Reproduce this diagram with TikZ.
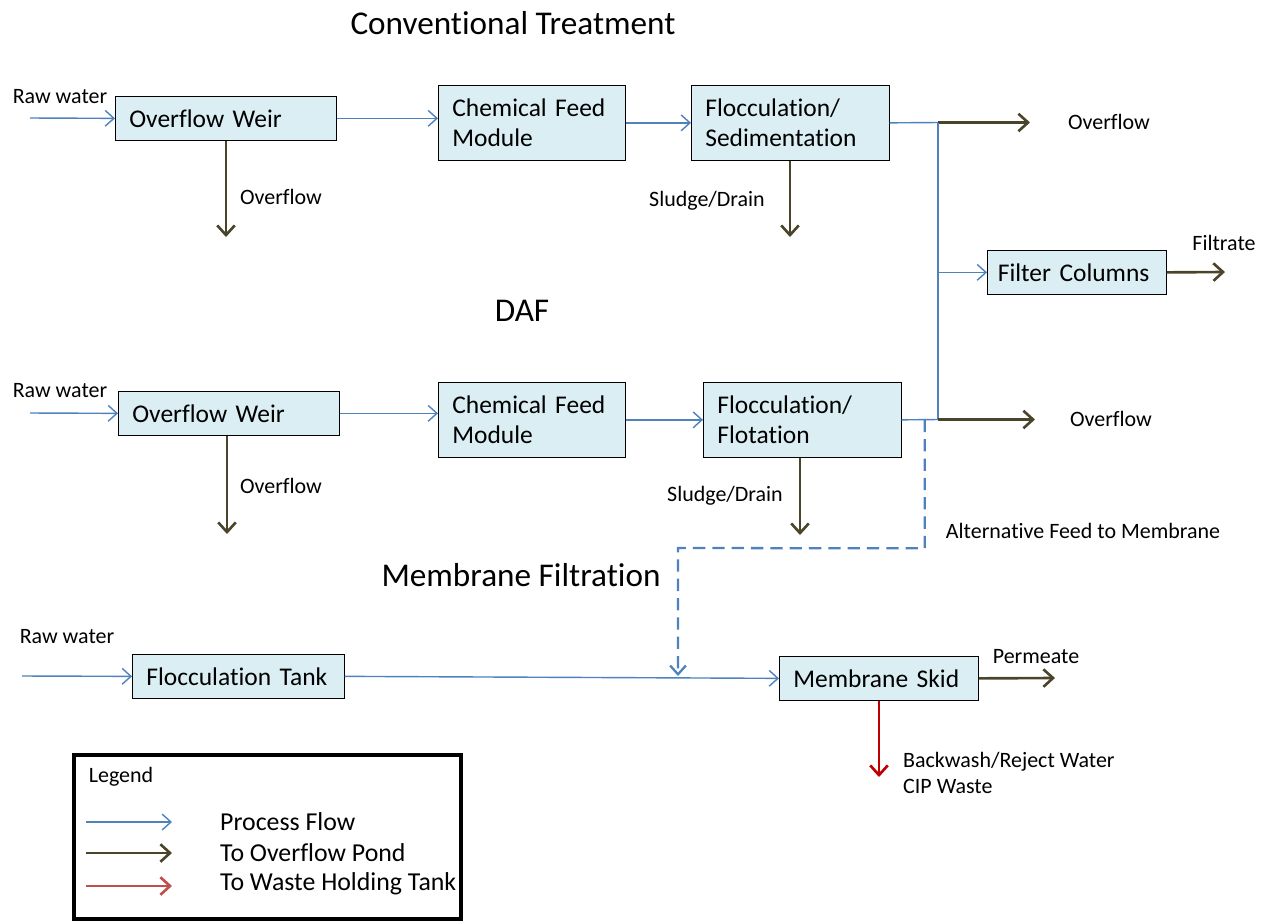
\documentclass[tikz,border=0pt]{standalone}
\usepackage{fontspec}
\setmainfont{Carlito}[Ligatures=NoCommon]
\usetikzlibrary{arrows.meta,calc}
\definecolor{flowblue}{HTML}{4F81BD}
\definecolor{pond}{HTML}{4A452A}
\definecolor{wastered}{HTML}{C00000}
\definecolor{wastelt}{HTML}{C0504D}
\definecolor{boxfill}{HTML}{DAEEF3}

\begin{document}
\begin{tikzpicture}[x=0.02cm,y=-0.02cm,
    unit/.style={draw,fill=boxfill,anchor=north west,align=left,inner xsep=0.28cm,
      text width=#1,minimum height=0.88cm,font=\fontsize{14.5}{17.5}\selectfont},
    lbl/.style={font=\fontsize{12.5}{14.8}\selectfont},
    ttl/.style={font=\fontsize{18.9}{22}\selectfont},
    key/.style={font=\fontsize{14.7}{17}\selectfont,anchor=west},
    pipe/.style={flowblue,line width=0.8pt},
    flow/.style={pipe,-{Straight Barb[length=5pt,width=9pt]}},
    over/.style={pond,line width=1.5pt,-{Straight Barb[length=5.5pt,width=10pt]}},
    reject/.style={wastered,line width=1.5pt,-{Straight Barb[length=5.5pt,width=10pt]}}]
  \useasboundingbox (0,0) rectangle (1272,921);

  % conventional treatment
  \node[ttl] (ttlconv) at (513,23) {Conventional Treatment};
  \node[unit=3.86cm] (ow1) at (115,96) {Overflow Weir};
  \node[unit=3.18cm,minimum height=1.5cm] (cf1) at (438,85) {Chemical Feed\\Module};
  \node[unit=3.40cm,minimum height=1.5cm] (fs1) at (691,85) {Flocculation/\\Sedimentation};
  \node[unit=3.16cm,inner xsep=0.21cm] (fc) at (987,250) {Filter Columns};
  \coordinate (raw1) at (30,118);
  \node[lbl] (lraw1) at (60,97) {Raw water};
  \coordinate (ovd1) at (226,237);
  \node[lbl] (lovd1) at (281,197) {Overflow};
  \coordinate (sl1) at (790,237);
  \node[lbl] (lsl1) at (707,201) {Sludge/Drain};
  \coordinate (j1) at (938,122.5);
  \coordinate (ov1) at (1030,122.5);
  \node[lbl] (lov1) at (1109,122) {Overflow};
  \coordinate (filt) at (1225,272);
  \node[lbl] (lfilt) at (1224,243) {Filtrate};

  \draw[flow] (raw1) -- (ow1.west);
  \draw[flow] (ow1.east) -- (ow1.east -| cf1.west);
  \draw[flow] (cf1.east) -- (fs1.west);
  \draw[over] (ow1.south -| ovd1) -- (ovd1);
  \draw[over] (fs1.south -| sl1) -- (sl1);
  \draw[pipe] (fs1.east) -- (j1);
  \draw[over] (j1) -- (ov1);
  \draw[flow] (j1 |- fc.west) -- (fc.west);
  \draw[over] (fc.east) -- (filt);

  % DAF
  \node[ttl] (ttldaf) at (522,311) {DAF};
  \node[unit=3.86cm] (ow2) at (118,391) {Overflow Weir};
  \node[unit=3.18cm,minimum height=1.5cm] (cf2) at (438,382) {Chemical Feed\\Module};
  \node[unit=3.40cm,minimum height=1.5cm] (ff2) at (703,382) {Flocculation/\\Flotation};
  \coordinate (raw2) at (30,413);
  \node[lbl] (lraw2) at (60,391) {Raw water};
  \coordinate (ovd2) at (227,534);
  \node[lbl] (lovd2) at (281,486) {Overflow};
  \coordinate (sl2) at (800,535);
  \node[lbl] (lsl2) at (725,496) {Sludge/Drain};
  \coordinate (j2) at (938,419.5);
  \coordinate (ov2) at (1035,419.5);
  \node[lbl] (lov2) at (1111,419) {Overflow};

  \draw[flow] (raw2) -- (ow2.west);
  \draw[flow] (ow2.east) -- (ow2.east -| cf2.west);
  \draw[flow] (cf2.east) -- (ff2.west);
  \draw[over] (ow2.south -| ovd2) -- (ovd2);
  \draw[over] (ff2.south -| sl2) -- (sl2);
  \draw[pipe] (ff2.east) -- (j2);
  \draw[pipe] (j1) -- (j2);
  \draw[over] (j2) -- (ov2);

  % membrane filtration
  \node[ttl] (ttlmem) at (521,575) {Membrane Filtration};
  \node[unit=3.68cm] (ft) at (132,654) {Flocculation Tank};
  \node[unit=3.42cm] (ms) at (779,656) {Membrane Skid};
  \coordinate (raw3) at (22,676);
  \node[lbl] (lraw3) at (67,637) {Raw water};
  \coordinate (alt) at (678,676);
  \node[lbl] (lalt) at (1083,531) {Alternative Feed to Membrane};
  \coordinate (perm) at (1055,678);
  \node[lbl] (lperm) at (1036,657) {Permeate};
  \coordinate (bw) at (879,777);
  \node[lbl,align=left,anchor=west] (lbw) at (897,773) {Backwash/Reject Water\\CIP Waste};

  \draw[flow] (raw3) -- (ft.west);
  \draw[flow] (ft.east) -- (ms.west);
  \draw[flow,line width=1.3pt,dash pattern=on 7pt off 4pt]
    ($(ff2.east)+(23,0)$) -- ($(ff2.east)+(23,128.5)$) -- (alt |- 0,548) -- (alt);
  \draw[over] (ms.east) -- (perm);
  \draw[reject] (ms.south -| bw) -- (bw);

  % legend
  \draw[line width=2.2pt] (74,755) rectangle (461,919);
  \node[lbl] (lleg) at (121,777) {Legend};
  \coordinate (la1) at (86,822);
  \coordinate (lb1) at (172,822);
  \coordinate (la2) at (86,853);
  \coordinate (lb2) at (172,853);
  \coordinate (la3) at (86,886);
  \coordinate (lb3) at (172,886);
  \draw[flow] (la1) -- (lb1);
  \draw[over] (la2) -- (lb2);
  \draw[reject,wastelt] (la3) -- (lb3);
  \node[key] (lpf) at (214,822) {Process Flow};
  \node[key] (lop) at (214,853) {To Overflow Pond};
  \node[key] (lwh) at (214,884) {To Waste Holding Tank};
\end{tikzpicture}
\end{document}
